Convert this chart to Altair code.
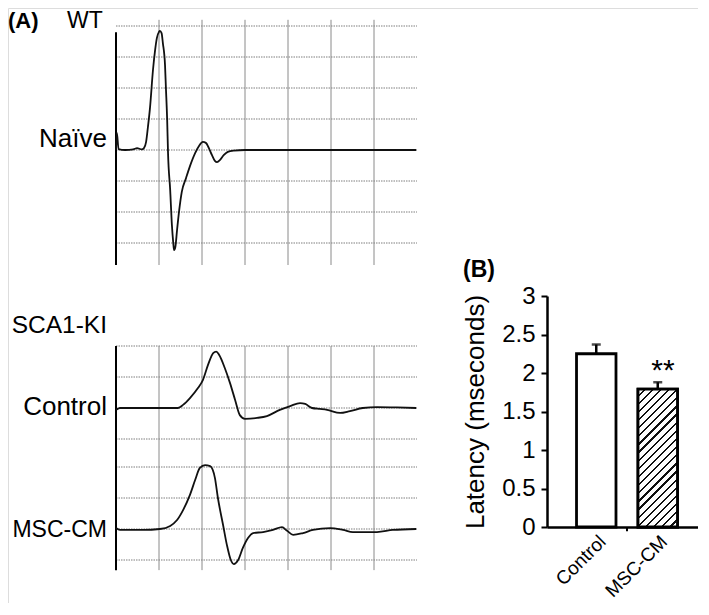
import altair as alt
import pandas as pd

FONT = "Liberation Sans"

# ---------------- Panel A: traces (time and amplitude in grid divisions) ----------------
wt_time = [0.0, 0.02, 0.06, 0.21, 0.40, 0.49, 0.60, 0.65, 0.70, 0.74, 0.79, 0.86, 0.91, 0.95,
           1.00, 1.02, 1.06, 1.09, 1.14, 1.16, 1.19, 1.21, 1.26, 1.30, 1.33, 1.35, 1.38, 1.42,
           1.47, 1.53, 1.63, 1.72, 1.84, 1.93, 2.02, 2.09, 2.16, 2.23, 2.30, 2.35, 2.42, 2.51,
           2.60, 2.74, 3.0, 4.28, 6.98]
wt_amp = [0.0, 0.55, 0.03, 0.0, 0.02, 0.06, 0.02, 0.06, 0.26, 0.71, 1.35, 2.58, 3.23, 3.61,
          3.81, 3.84, 3.77, 3.45, 2.74, 2.03, 0.97, -0.10, -1.29, -2.42, -2.97, -3.23, -3.13, -2.58,
          -1.94, -1.35, -0.90, -0.52, -0.10, 0.13, 0.26, 0.23, 0.06, -0.16, -0.35, -0.39, -0.32, -0.16,
          -0.06, -0.02, 0.0, 0.0, 0.0]

ctrl_time = [0.0, 0.05, 0.09, 0.79, 1.44, 1.56, 1.72, 1.91, 2.02, 2.14, 2.26, 2.33, 2.40, 2.53,
             2.65, 2.77, 2.88, 3.00, 3.28, 3.51, 3.81, 4.05, 4.28, 4.40, 4.56, 4.74, 4.91, 5.21,
             5.44, 5.74, 6.07, 6.53, 6.98]
ctrl_amp = [-0.06, -0.02, 0.0, 0.0, 0.0, 0.10, 0.32, 0.65, 0.90, 1.39, 1.77, 1.82, 1.71, 1.29,
            0.81, 0.26, -0.23, -0.35, -0.32, -0.26, -0.06, 0.06, 0.16, 0.13, 0.0, -0.03, -0.06, -0.16,
            -0.10, 0.0, 0.03, 0.02, 0.0]

msc_time = [0.0, 0.09, 0.63, 1.02, 1.26, 1.42, 1.56, 1.72, 1.84, 1.95, 2.07, 2.19, 2.30, 2.37,
            2.49, 2.58, 2.67, 2.74, 2.84, 2.95, 3.07, 3.19, 3.42, 3.65, 3.86, 3.98, 4.12, 4.35,
            4.58, 4.98, 5.28, 5.51, 6.07, 6.44, 6.98]
msc_amp = [0.03, -0.03, -0.03, 0.0, 0.10, 0.29, 0.61, 1.10, 1.58, 1.97, 2.06, 2.03, 1.65, 1.00,
           0.13, -0.52, -1.00, -1.13, -1.00, -0.61, -0.29, -0.13, -0.10, -0.03, 0.06, -0.06, -0.19, -0.13,
           -0.03, 0.03, -0.03, -0.10, -0.10, -0.03, 0.0]

time_grid = [1, 2, 3, 4, 5, 6]
wt_amp_grid = [4, 3, 2, 1, 0, -1, -2, -3]
ki_amp_grid = [2, 1, 0, -1]

# ---------------- Panel B: latency bars ----------------
groups = ["Control", "MSC-CM"]
latency = [2.25, 1.79]
latency_err = [0.12, 0.09]
signif = ["", "**"]
latency_ticks = [0, 0.5, 1, 1.5, 2, 2.5, 3]

# ---------------- scales (pixel ranges place each panel) ----------------
T_SCALE = alt.Scale(domain=[0, 7], range=[108, 409], nice=False, zero=False)
WT_Y = alt.Scale(domain=[-4, 4], range=[266, 18], nice=False, zero=False)
CTRL_Y = alt.Scale(domain=[-1, 2], range=[431, 338], nice=False, zero=False)
MSC_Y = alt.Scale(domain=[-1, 2], range=[552, 459], nice=False, zero=False)

B_X = alt.Scale(domain=groups, range=[539, 699], paddingInner=0.358, paddingOuter=0.48)
B_XQ = alt.Scale(domain=[0, 2], range=[539, 699], nice=False, zero=False)
B_Y = alt.Scale(domain=[0, 3], range=[519, 288], nice=False, zero=True)

HGRID_COLOR = "#7f7f7f"
VGRID_COLOR = "#8a8a8a"


def hgrid(levels, yscale):
    df = pd.DataFrame({"a": levels, "t0": 0, "t1": 7})
    return alt.Chart(df).mark_rule(color=HGRID_COLOR, strokeWidth=1, strokeDash=[1.5, 1]).encode(
        x=alt.X("t0:Q", scale=T_SCALE, axis=None), x2="t1:Q",
        y=alt.Y("a:Q", scale=yscale, axis=None))


def vlines(times, lo, hi, yscale, color, width):
    df = pd.DataFrame({"t": times, "a0": lo, "a1": hi})
    return alt.Chart(df).mark_rule(color=color, strokeWidth=width).encode(
        x=alt.X("t:Q", scale=T_SCALE, axis=None),
        y=alt.Y("a0:Q", scale=yscale, axis=None), y2="a1:Q")


def trace(t, a, yscale):
    df = pd.DataFrame({"t": t, "a": a})
    return alt.Chart(df).mark_line(color="#111111", strokeWidth=1.8, interpolate="monotone").encode(
        x=alt.X("t:Q", scale=T_SCALE, axis=None),
        y=alt.Y("a:Q", scale=yscale, axis=None))


def label(text, x, y, size, weight="normal", align="right"):
    return alt.Chart(pd.DataFrame({"label": [text]})).mark_text(
        align=align, baseline="alphabetic", fontSize=size, fontWeight=weight,
        font=FONT, color="black").encode(text="label:N", x=alt.value(x), y=alt.value(y))


layers = [
    # WT panel
    hgrid(wt_amp_grid, WT_Y),
    vlines(time_grid, -3.71, 4.2, WT_Y, VGRID_COLOR, 1),
    vlines([0], -3.71, 3.8, WT_Y, "black", 2),
    trace(wt_time, wt_amp, WT_Y),
    # SCA1-KI panels
    hgrid(ki_amp_grid, CTRL_Y),
    hgrid(ki_amp_grid, MSC_Y),
    vlines(time_grid, -5.23, 2, CTRL_Y, VGRID_COLOR, 1),
    vlines([0], -5.23, 2, CTRL_Y, "black", 2),
    trace(ctrl_time, ctrl_amp, CTRL_Y),
    trace(msc_time, msc_amp, MSC_Y),
    # labels
    label("(A)", 0, 20, 22, "bold", "left"),
    label("WT", 59, 20, 23, "normal", "left"),
    label("Naïve", 99, 139, 26),
    label("SCA1-KI", 99, 325, 24.5),
    label("Control", 99, 407, 26),
    label("MSC-CM", 99, 529, 23),
    label("(B)", 455, 269, 23, "bold", "left"),
]

# ---------------- bar chart ----------------
bdf = pd.DataFrame({"group": groups, "latency": latency, "err": latency_err, "sig": signif})
bdf["upper"] = bdf["latency"] + bdf["err"]

bars = alt.Chart(bdf).mark_bar(fill="white", stroke="black", strokeWidth=2.8).encode(
    x=alt.X("group:N", scale=B_X, sort=groups, title=None,
            axis=alt.Axis(orient="bottom", offset=-76, labelAngle=-45, labelFontSize=19,
                          labelFont=FONT, labelColor="black", ticks=False, labelPadding=5,
                          domainColor="black", domainWidth=2.5, grid=False)),
    y=alt.Y("latency:Q", scale=B_Y, title="Latency (mseconds)",
            axis=alt.Axis(orient="left", offset=-539, values=latency_ticks, format="~g",
                          labelFontSize=24, labelFont=FONT, labelColor="black", labelPadding=6,
                          tickSize=6, tickWidth=2, tickColor="black", domainColor="black",
                          domainWidth=2.5, grid=False, labelFlush=False, labelOverlap=False,
                          titleFont=FONT, titleFontSize=26, titleFontWeight="normal",
                          titleColor="black", titlePadding=13)),
)

# diagonal hatch for the MSC-CM bar via a striped linear gradient
bar_w, bar_h, k, n_stripes = 39.5, latency[1] * 77.0, 1.2, 22
stops = []
for i in range(n_stripes):
    s = i / n_stripes
    m = (i + 0.72) / n_stripes
    e = (i + 1) / n_stripes
    stops += [{"offset": s, "color": "white"}, {"offset": m, "color": "white"},
              {"offset": m, "color": "#111111"}, {"offset": e, "color": "#111111"}]
hatch = {"gradient": "linear", "x1": 0, "y1": 0, "x2": k * bar_w / bar_h, "y2": k, "stops": stops}

hatched = alt.Chart(bdf).transform_filter(alt.datum.group == "MSC-CM").mark_bar(
    fill=hatch, stroke="black", strokeWidth=2.8).encode(
    x=alt.X("group:N", scale=B_X, sort=groups, axis=None),
    y=alt.Y("latency:Q", scale=B_Y, axis=None))

err_rule = alt.Chart(bdf).mark_rule(color="black", strokeWidth=2.5).encode(
    x=alt.X("group:N", scale=B_X, sort=groups, axis=None),
    y=alt.Y("latency:Q", scale=B_Y, axis=None), y2="upper:Q")

err_cap = alt.Chart(bdf).mark_tick(color="black", size=9, thickness=2.5, orient="horizontal").encode(
    x=alt.X("group:N", scale=B_X, sort=groups, axis=None),
    y=alt.Y("upper:Q", scale=B_Y, axis=None))

stars = alt.Chart(bdf).mark_text(fontSize=30, font=FONT, baseline="alphabetic", dy=-2, dx=-4,
                                 color="black").encode(
    x=alt.X("group:N", scale=B_X, sort=groups, axis=None),
    y=alt.Y("upper:Q", scale=B_Y, axis=None), text="sig:N")

bound_df = pd.DataFrame({"b": [1, 2], "y0": 0, "y1": -0.055})
bound_ticks = alt.Chart(bound_df).mark_rule(color="black", strokeWidth=2).encode(
    x=alt.X("b:Q", scale=B_XQ, axis=None),
    y=alt.Y("y0:Q", scale=B_Y, axis=None), y2="y1:Q")

layers += [bars, hatched, err_rule, err_cap, stars, bound_ticks]

chart = alt.layer(*layers).resolve_scale(x="independent", y="independent").properties(
    width=690, height=595, autosize=alt.AutoSizeParams(type="none"), padding=0,
    background="white",
).configure_view(stroke=None).configure(font=FONT)

chart.save("out.html", embed_options={"renderer": "svg", "actions": False})
